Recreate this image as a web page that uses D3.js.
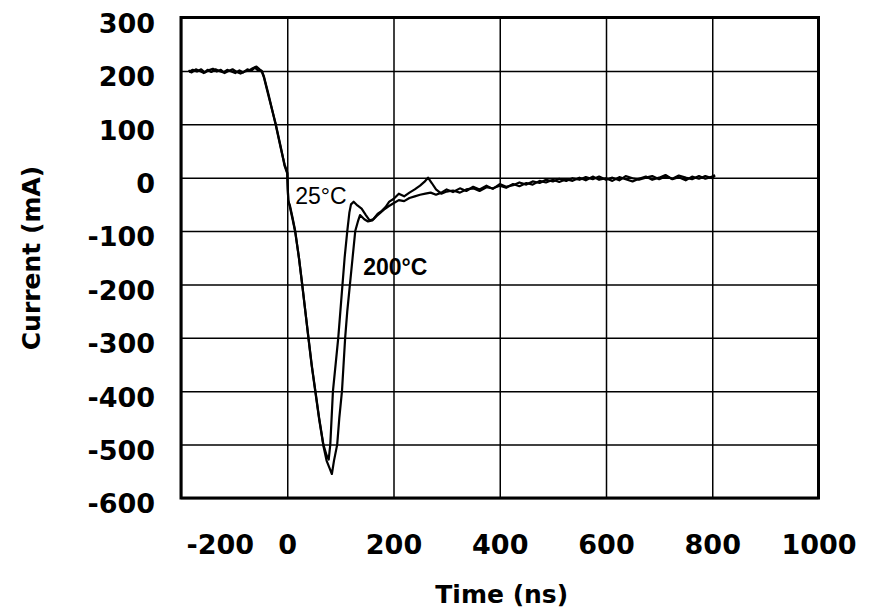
<!DOCTYPE html>
<html>
<head>
<meta charset="utf-8">
<script src="https://cdn.jsdelivr.net/npm/d3@7/dist/d3.min.js"></script>
<style>
  html, body { margin: 0; padding: 0; background: #fff; }
  svg { display: block; }
</style>
</head>
<body>
<script>
// ---- Data ----
const xTicks = [-200, 0, 200, 400, 600, 800, 1000];
const yTicks = [300, 200, 100, 0, -100, -200, -300, -400, -500, -600];
const seriesNames = ["25°C", "200°C"];

// [time (ns), current (mA)]
const series25 = [
  [-185,198],[-178,202],[-170,199],[-162,203],[-155,197],[-148,201],[-140,204],[-133,199],
  [-125,202],[-118,196],[-110,200],[-103,203],[-95,198],[-88,195],[-80,199],[-72,201],
  [-65,205],[-58,208],[-52,203],[-48,200],[-44,190],[-35,155],[-22,100],[-11,50],[-5,25],
  [0,10],[1,-20],[2,-45],[5,-52],[10,-75],[15,-100],[22,-150],[28,-200],[34,-250],[40,-300],
  [46,-350],[53,-400],[60,-450],[68,-500],[74,-520],[78,-528],[81,-500],[86,-400],[91,-350],
  [96,-300],[100,-250],[104,-200],[108,-150],[113,-100],[117,-65],[120,-50],[125,-45],
  [132,-52],[140,-58],[148,-70],[155,-80],[162,-78],[170,-68],[178,-62],[185,-55],[192,-45],
  [200,-40],[210,-30],[220,-35],[230,-28],[240,-22],[250,-15],[258,-8],[265,0],[272,-10],
  [280,-22],[290,-30],[300,-26],[312,-24],[325,-28],[337,-22],[350,-20],[362,-25],[375,-18],
  [387,-20],[400,-15],[412,-19],[425,-12],[437,-16],[450,-10],[462,-13],[475,-6],[487,-9],
  [500,-4],[512,-8],[525,-3],[537,-6],[550,0],[562,-5],[575,2],[587,-4],[600,-1],[612,-6],
  [625,1],[637,-3],[650,-7],[662,-2],[675,2],[687,-4],[700,0],[712,5],[725,-3],[737,1],
  [750,-5],[762,2],[775,-2],[787,3],[800,-1],[805,4]
];
const series200 = [
  [-186,201],[-180,197],[-172,203],[-165,200],[-157,196],[-150,202],[-143,198],[-135,203],
  [-128,200],[-120,197],[-113,202],[-105,199],[-98,196],[-90,201],[-83,197],[-75,203],
  [-68,200],[-61,206],[-55,201],[-48,199],[-44,188],[-35,152],[-22,102],[-11,52],[-5,22],
  [0,8],[1,-22],[2,-42],[5,-55],[10,-78],[15,-102],[22,-150],[28,-198],[34,-250],[40,-302],
  [46,-352],[53,-402],[60,-452],[68,-502],[74,-530],[80,-545],[84,-555],[88,-530],[94,-500],
  [98,-450],[103,-400],[106,-350],[109,-300],[113,-250],[118,-200],[123,-150],[128,-100],
  [133,-82],[137,-70],[145,-78],[152,-82],[160,-80],[168,-72],[175,-66],[182,-60],[190,-54],
  [200,-48],[210,-42],[220,-44],[230,-38],[240,-35],[250,-32],[260,-30],[270,-28],[280,-32],
  [290,-28],[300,-22],[312,-27],[325,-20],[337,-25],[350,-17],[362,-22],[375,-15],[387,-21],
  [400,-12],[412,-17],[425,-14],[437,-9],[450,-13],[462,-7],[475,-10],[487,-4],[500,-7],
  [512,-2],[525,-6],[537,-1],[550,-4],[562,1],[575,-3],[587,2],[600,-4],[612,0],[625,-5],
  [637,3],[650,-1],[662,-4],[675,0],[687,3],[700,-3],[712,2],[725,-2],[737,4],[750,0],
  [762,-3],[775,3],[787,-2],[800,2],[805,5]
];

// ---- Layout ----
const W = 883, H = 613;
const pLeft = 181, pRight = 818.5, pTop = 17.5, pBottom = 498;

const svg = d3.select("body").append("svg").attr("width", W).attr("height", H);
svg.append("rect").attr("width", W).attr("height", H).attr("fill", "#fff");

const x = d3.scaleLinear().domain([-200, 1000]).range([pLeft, pRight]);
const y = d3.scaleLinear().domain([-600, 300]).range([pBottom, pTop]);

const tickFont = "DejaVu Sans, sans-serif";

// X axis with gridlines
const gx = svg.append("g")
  .attr("transform", `translate(0,${pBottom})`)
  .call(d3.axisBottom(x).tickValues(xTicks).tickFormat(d3.format("d"))
        .tickSize(-(pBottom - pTop)).tickPadding(37));
gx.select(".domain").remove();
gx.selectAll(".tick line").attr("stroke", "#000").attr("stroke-width", 1.5);
gx.selectAll(".tick text")
  .attr("fill", "#000").attr("font-family", tickFont).attr("font-weight", "bold")
  .attr("font-size", 27)
  .text(d => d < 0 ? "-" + Math.abs(d) : d);
// the first label sits to the right of its gridline in the reference
gx.selectAll(".tick text").filter(d => d === -200).attr("text-anchor", "start").attr("x", 5);

// Y axis with gridlines
const gy = svg.append("g")
  .attr("transform", `translate(${pLeft},0)`)
  .call(d3.axisLeft(y).tickValues(yTicks).tickFormat(d3.format("d"))
        .tickSize(-(pRight - pLeft)).tickPadding(26));
gy.select(".domain").remove();
gy.selectAll(".tick line").attr("stroke", "#000").attr("stroke-width", 1.5);
gy.selectAll(".tick text")
  .attr("fill", "#000").attr("font-family", tickFont).attr("font-weight", "bold")
  .attr("font-size", 27).attr("dy", "0.55em")
  .text(d => d < 0 ? "-" + Math.abs(d) : d);

// Plot border
svg.append("rect")
  .attr("x", pLeft).attr("y", pTop)
  .attr("width", pRight - pLeft).attr("height", pBottom - pTop)
  .attr("fill", "none").attr("stroke", "#000").attr("stroke-width", 3);

// Curves
const line = d3.line().x(d => x(d[0])).y(d => y(d[1]));
[series25, series200].forEach(s => {
  svg.append("path").datum(s)
    .attr("d", line)
    .attr("fill", "none").attr("stroke", "#000")
    .attr("stroke-width", 2.2).attr("stroke-linejoin", "round");
});

// Series labels
svg.append("text")
  .attr("x", x(15)).attr("y", y(-50))
  .attr("font-family", "Liberation Sans, Arial, sans-serif").attr("font-size", 23)
  .attr("fill", "#000").text(seriesNames[0]);
svg.append("text")
  .attr("x", x(143)).attr("y", y(-182))
  .attr("font-family", "Liberation Sans, Arial, sans-serif").attr("font-size", 23)
  .attr("font-weight", "bold").attr("fill", "#000").text(seriesNames[1]);

// Axis titles
svg.append("text")
  .attr("x", (pLeft + pRight) / 2 + 2).attr("y", 603)
  .attr("text-anchor", "middle")
  .attr("font-family", tickFont).attr("font-weight", "bold").attr("font-size", 25)
  .attr("fill", "#000").text("Time (ns)");
svg.append("text")
  .attr("transform", `translate(40,258) rotate(-90)`)
  .attr("text-anchor", "middle")
  .attr("font-family", tickFont).attr("font-weight", "bold").attr("font-size", 25)
  .attr("fill", "#000").text("Current (mA)");
</script>
</body>
</html>
